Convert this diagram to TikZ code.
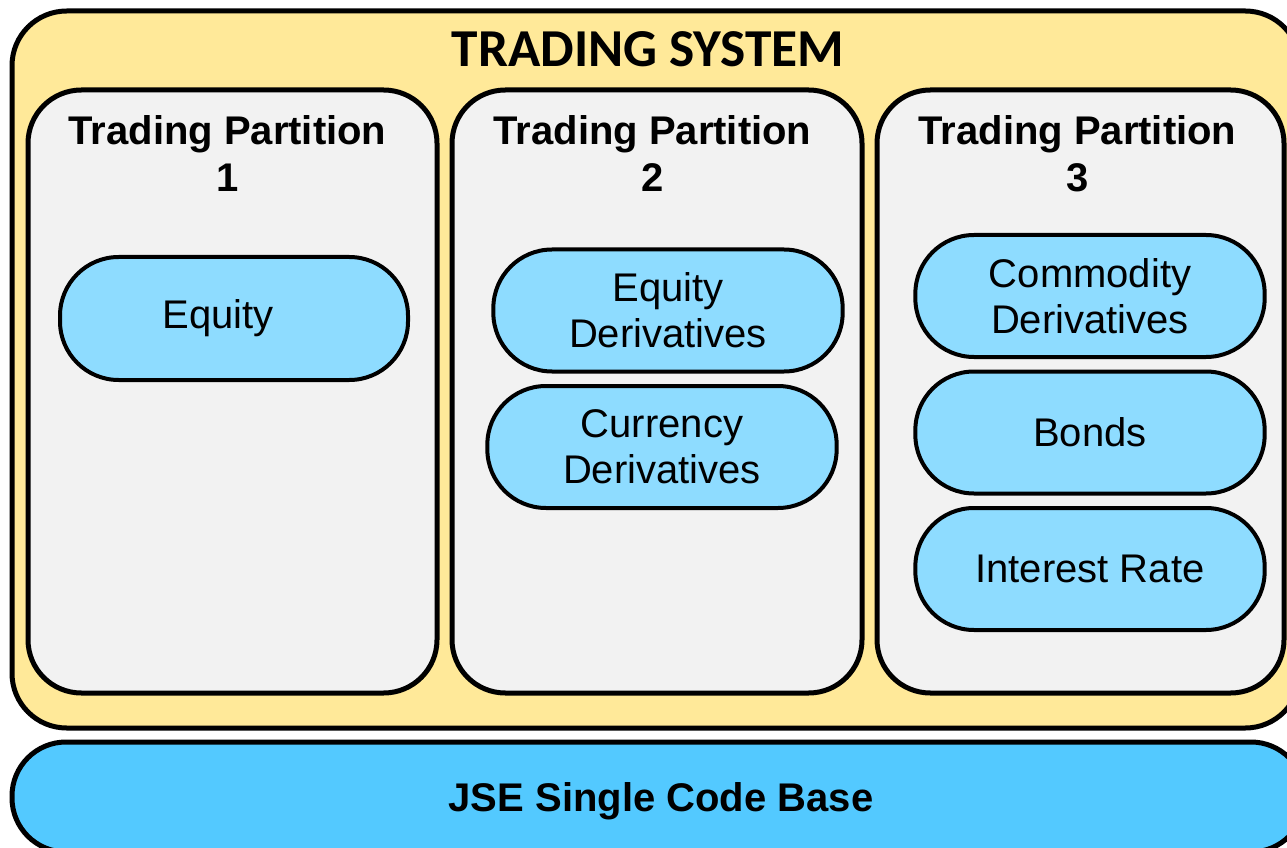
\documentclass[tikz,border=0pt]{standalone}
\usepackage{fontspec}
\setmainfont{Liberation Sans}
\newfontfamily\titlefont{Carlito}
\definecolor{sysyellow}{HTML}{FFE999}
\definecolor{partgray}{HTML}{F2F2F2}
\definecolor{pillblue}{HTML}{8EDCFF}
\definecolor{basebar}{HTML}{53C9FF}
\tikzset{
  outerbox/.style={draw=black, line width=3.75pt, fill=sysyellow, rounded corners=41pt, inner sep=0pt},
  partbox/.style={draw=black, line width=3.75pt, fill=partgray, rounded corners=40pt, inner sep=0pt, minimum height=452.25pt},
  pill/.style={draw=black, line width=3pt, fill=pillblue, rounded corners=44pt, inner sep=0pt, minimum width=262pt, minimum height=91.5pt, align=center, font=\fontsize{30}{34.8}\selectfont},
  basebox/.style={draw=black, line width=3.75pt, fill=basebar, rounded corners=40.5pt, inner sep=0pt, minimum width=969.75pt, minimum height=82.5pt},
  parttitle/.style={anchor=base, inner sep=0pt, font=\fontsize{30}{34.8}\selectfont\bfseries},
}
\begin{document}
\begin{tikzpicture}[x=0.75pt,y=-0.75pt]
\useasboundingbox (0,0) rectangle (1287,848);
\clip (0,0) rectangle (1287,848);
\fill[white] (0,0) rectangle (1287,848);

\node[outerbox, minimum width=966pt, minimum height=537.75pt] (sys) at (656,369.5) {};
\node[anchor=base, inner sep=0pt, font=\titlefont\fontsize{40}{46}\selectfont\bfseries] (systitle) at (648,67) {TRADING SYSTEM};

\node[partbox, minimum width=306.75pt] (p1) at (232.5,391.5) {};
\node[partbox, minimum width=307.5pt] (p2) at (657,391.5) {};
\node[partbox, minimum width=305.25pt] (p3) at (1080.5,391.5) {};

\node[parttitle] (p1a) at (227.5,145) {Trading Partition};
\node[parttitle] (p1b) at (227.5,192) {1};
\node[parttitle] (p2a) at (652.5,145) {Trading Partition};
\node[parttitle] (p2b) at (652.5,192) {2};
\node[parttitle] (p3a) at (1077.5,145) {Trading Partition};
\node[parttitle] (p3b) at (1077.5,192) {3};

\node[pill, minimum width=261pt, minimum height=92.25pt] (equity) at (234,318.5) {\hspace*{-24pt}Equity};
\node[pill] (eqder) at (668,310.5) {Equity\\Derivatives};
\node[pill] (curder) at (662,447) {Currency\\Derivatives};
\node[pill] (comder) at (1090,296) {Commodity\\Derivatives};
\node[pill] (bonds) at (1090,432.5) {Bonds};
\node[pill] (irate) at (1090,569) {Interest Rate};

\node[basebox] (jse) at (658.5,797) {};
\node[anchor=base, inner sep=0pt, font=\fontsize{30}{34.8}\selectfont\bfseries] (jsetext) at (661,811) {JSE Single Code Base};
\end{tikzpicture}
\end{document}
